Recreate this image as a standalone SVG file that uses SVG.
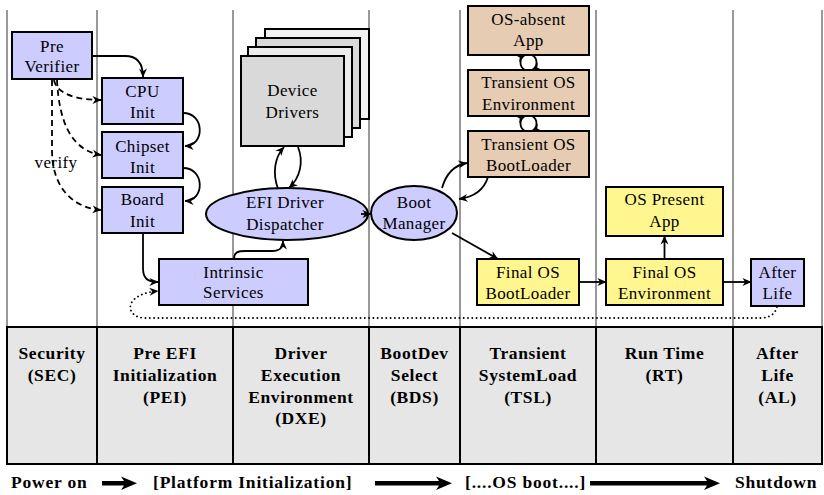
<svg xmlns="http://www.w3.org/2000/svg" width="824" height="495" viewBox="0 0 824 495">
  <style>
    .lane { stroke: #333; stroke-width: 1; }
    .box { stroke: #000; stroke-width: 2; }
    .blue { fill: #ccccff; }
    .tan { fill: #e6ccb3; }
    .yel { fill: #fff68f; }
    .gray { fill: #d9d9d9; }
    text { font-family: "Liberation Serif", "Times New Roman", serif; font-size: 17px; letter-spacing: 0.4px; fill: #000; text-anchor: middle; }
    .hdr { font-weight: bold; font-size: 17.5px; letter-spacing: 0.6px; }
    .foot { font-weight: bold; font-size: 17.5px; letter-spacing: 0.8px; text-anchor: start; }
    .conn { fill: none; stroke: #000; stroke-width: 1.8; marker-end: url(#arr); }
    .dash { stroke-dasharray: 6 4; }
    .dot { stroke-dasharray: 0.1 4.2; stroke-linecap: round; stroke-width: 1.8; }
    .cell { fill: #e6e6e6; stroke: #000; stroke-width: 2; }
  </style>
  <defs>
    <marker id="arr" viewBox="0 0 10 10" refX="9.5" refY="5" markerWidth="9" markerHeight="9" markerUnits="userSpaceOnUse" orient="auto">
      <path d="M0,0.6 L10,5 L0,9.4 L3,5 Z" fill="#000" stroke="none"/>
    </marker>
  </defs>

  <!-- phase lanes -->
  <g id="lanes">
    <line class="lane" x1="7" y1="10" x2="7" y2="327"/>
    <line class="lane" x1="97" y1="10" x2="97" y2="327"/>
    <line class="lane" x1="233" y1="10" x2="233" y2="327"/>
    <line class="lane" x1="369" y1="10" x2="369" y2="327"/>
    <line class="lane" x1="460" y1="10" x2="460" y2="327"/>
    <line class="lane" x1="596" y1="10" x2="596" y2="327"/>
    <line class="lane" x1="733" y1="10" x2="733" y2="327"/>
    <line class="lane" x1="822" y1="10" x2="822" y2="327"/>
  </g>

  <!-- phase table -->
  <g id="phases">
    <rect class="cell" x="7" y="327" width="90" height="137"/>
    <rect class="cell" x="97" y="327" width="136" height="137"/>
    <rect class="cell" x="233" y="327" width="136" height="137"/>
    <rect class="cell" x="369" y="327" width="91" height="137"/>
    <rect class="cell" x="460" y="327" width="136" height="137"/>
    <rect class="cell" x="596" y="327" width="137" height="137"/>
    <rect class="cell" x="733" y="327" width="89" height="137"/>
    <text class="hdr" x="52" y="359">Security</text>
    <text class="hdr" x="52" y="381">(SEC)</text>
    <text class="hdr" x="165" y="359">Pre  EFI</text>
    <text class="hdr" x="165" y="381">Initialization</text>
    <text class="hdr" x="165" y="402.5">(PEI)</text>
    <text class="hdr" x="301" y="359">Driver</text>
    <text class="hdr" x="301" y="381">Execution</text>
    <text class="hdr" x="301" y="402.5">Environment</text>
    <text class="hdr" x="301" y="424">(DXE)</text>
    <text class="hdr" x="414.5" y="359">BootDev</text>
    <text class="hdr" x="414.5" y="381">Select</text>
    <text class="hdr" x="414.5" y="402.5">(BDS)</text>
    <text class="hdr" x="528" y="359">Transient</text>
    <text class="hdr" x="528" y="381">SystemLoad</text>
    <text class="hdr" x="528" y="402.5">(TSL)</text>
    <text class="hdr" x="664.5" y="359">Run Time</text>
    <text class="hdr" x="664.5" y="381">(RT)</text>
    <text class="hdr" x="777.5" y="359">After</text>
    <text class="hdr" x="777.5" y="381">Life</text>
    <text class="hdr" x="777.5" y="402.5">(AL)</text>
  </g>

  <!-- timeline -->
  <g id="timeline">
    <text class="foot" x="11" y="488">Power on</text>
    <path d="M102,481 L124,481 L121,476.5 L137,483.3 L121,490 L124,485.6 L102,485.6 Z"/>
    <text class="foot" x="153" y="488">[Platform Initialization]</text>
    <path d="M375,481 L439,481 L436,476.5 L452,483.3 L436,490 L439,485.6 L375,485.6 Z"/>
    <text class="foot" x="465" y="488">[....OS boot....]</text>
    <path d="M590,481 L707,481 L704,476.5 L720,483.3 L704,490 L707,485.6 L590,485.6 Z"/>
    <text class="foot" x="735" y="488">Shutdown</text>
  </g>

  <!-- nodes -->
  <g id="pre-verifier">
    <rect class="box blue" x="12" y="32" width="80" height="47"/>
    <text x="52" y="52">Pre</text>
    <text x="52" y="72">Verifier</text>
  </g>
  <g id="cpu-init">
    <rect class="box blue" x="102" y="78" width="81" height="46"/>
    <text x="142.5" y="97">CPU</text>
    <text x="142.5" y="118">Init</text>
  </g>
  <g id="chipset-init">
    <rect class="box blue" x="102" y="132" width="81" height="46"/>
    <text x="142.5" y="152">Chipset</text>
    <text x="142.5" y="173">Init</text>
  </g>
  <g id="board-init">
    <rect class="box blue" x="102" y="187" width="81" height="46"/>
    <text x="142.5" y="205">Board</text>
    <text x="142.5" y="227">Init</text>
  </g>
  <g id="intrinsic-services">
    <rect class="box blue" x="159" y="259" width="149" height="46"/>
    <text x="233.5" y="278">Intrinsic</text>
    <text x="233.5" y="298">Services</text>
  </g>
  <g id="device-drivers">
    <rect class="box" fill="#f2f2f2" x="265" y="29" width="104" height="90"/>
    <rect class="box gray" x="256" y="38" width="104" height="90"/>
    <rect class="box" fill="#ececec" x="248" y="47" width="104" height="90"/>
    <rect class="box gray" x="241" y="56" width="103" height="90"/>
    <text x="292.5" y="96">Device</text>
    <text x="292.5" y="117.5">Drivers</text>
  </g>
  <g id="efi-dispatcher">
    <ellipse class="box blue" cx="287" cy="214" rx="81" ry="26"/>
    <text x="285" y="208">EFI Driver</text>
    <text x="285" y="230">Dispatcher</text>
  </g>
  <g id="boot-manager">
    <ellipse class="box blue" cx="414" cy="213" rx="43" ry="27"/>
    <text x="414" y="208">Boot</text>
    <text x="414" y="229">Manager</text>
  </g>
  <g id="os-absent-app">
    <rect class="box tan" x="468" y="6" width="121" height="49"/>
    <text x="528.5" y="25">OS-absent</text>
    <text x="528.5" y="46">App</text>
  </g>
  <g id="transient-os-env">
    <rect class="box tan" x="468" y="70" width="121" height="46"/>
    <text x="528.5" y="88">Transient OS</text>
    <text x="528.5" y="110">Environment</text>
  </g>
  <g id="transient-os-loader">
    <rect class="box tan" x="468" y="131" width="121" height="46"/>
    <text x="528.5" y="149.5">Transient OS</text>
    <text x="528.5" y="171">BootLoader</text>
  </g>
  <g id="os-present-app">
    <rect class="box yel" x="606" y="187" width="117" height="49"/>
    <text x="664.5" y="205">OS Present</text>
    <text x="664.5" y="227">App</text>
  </g>
  <g id="final-os-loader">
    <rect class="box yel" x="477" y="259" width="102" height="46"/>
    <text x="528" y="278">Final OS</text>
    <text x="528" y="299">BootLoader</text>
  </g>
  <g id="final-os-env">
    <rect class="box yel" x="606" y="259" width="117" height="46"/>
    <text x="664.5" y="278">Final OS</text>
    <text x="664.5" y="299">Environment</text>
  </g>
  <g id="after-life">
    <rect class="box blue" x="751" y="259" width="53" height="47"/>
    <text x="777.5" y="278">After</text>
    <text x="777.5" y="299">Life</text>
  </g>

  <!-- connectors -->
  <g id="connectors">
    <path class="conn" d="M92,56 L125,56 C138,56 143,64 143,77"/>
    <path class="conn" d="M183,113 C205,113 205,146 185,146"/>
    <path class="conn" d="M183,168 C205,168 205,201 185,201"/>
    <path class="conn dash" d="M54,80 C56,93 75,100 101,100"/>
    <path class="conn dash" d="M57,80 C59,120 70,150 101,155"/>
    <path class="conn dash" d="M52,80 L52,150 C52,190 75,208 101,210"/>
    <text x="56" y="168">verify</text>
    <path class="conn" d="M143,233 L143,268 C143,278 147,282 158,282"/>
    <path class="conn dot" d="M777,307 Q774,318 760,318 L145,318 C125,318 122,294 158,291"/>
    <path class="conn" d="M234,259 C234,252 238,251 246,251 L272,251 C280,251 283,248 283,241"/>
    <path class="conn" d="M278,189 C272,172 275,157 284,147"/>
    <path class="conn" d="M298,147 C304,162 300,178 289,188"/>
    <path class="conn" d="M361,214 L371,214"/>
    <path class="conn" d="M442,188 C446,174 455,165 467,163"/>
    <path class="conn" d="M488,177 C484,190 474,197 459,199"/>
    <path class="conn" d="M525,70 C519,67 519,58 525,55"/>
    <path class="conn" d="M532,55 C538,58 538,67 532,70"/>
    <path class="conn" d="M525,131 C519,128 519,119 525,116"/>
    <path class="conn" d="M532,116 C538,119 538,128 532,131"/>
    <path class="conn" d="M452,233 L498,259"/>
    <path class="conn" d="M579,282 L606,282"/>
    <path class="conn" d="M664.5,259 L664.5,236"/>
    <path class="conn" d="M723,282 L751,282"/>
  </g>
</svg>
